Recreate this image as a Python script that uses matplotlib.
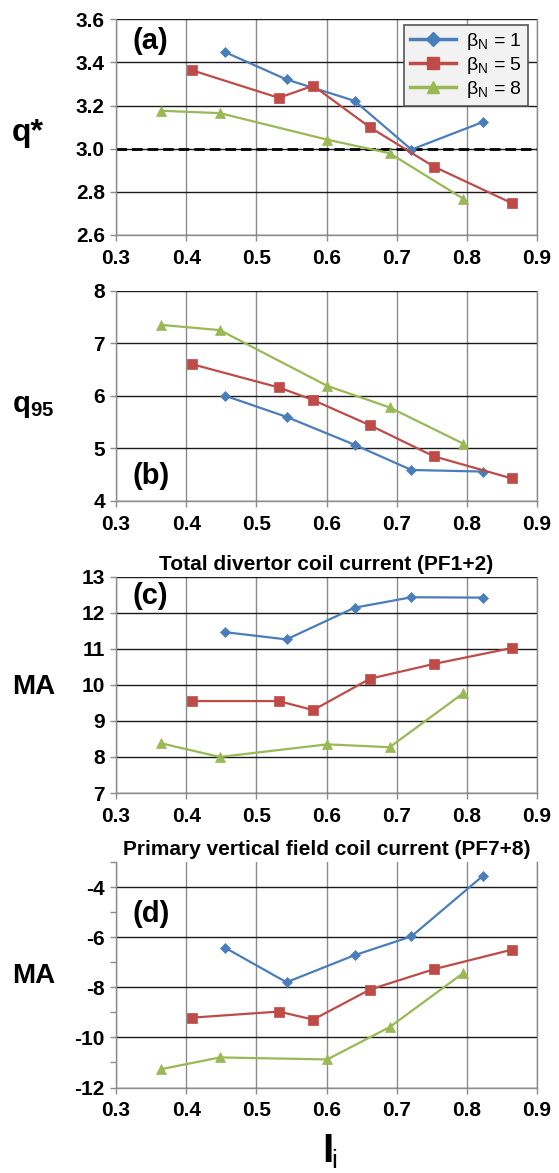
import matplotlib
matplotlib.use("Agg")
import matplotlib.pyplot as plt
from matplotlib.ticker import MultipleLocator, FormatStrFormatter
from matplotlib.lines import Line2D

plt.rcParams['font.family'] = ['Liberation Sans', 'DejaVu Sans']
plt.rcParams['mathtext.fontset'] = 'custom'
plt.rcParams['mathtext.rm'] = 'Liberation Sans'
plt.rcParams['mathtext.bf'] = 'Liberation Sans:bold'
plt.rcParams['mathtext.it'] = 'Liberation Sans:italic'

# ---------------- data ----------------
li_b1 = [0.456, 0.543, 0.640, 0.721, 0.823]
li_b5 = [0.409, 0.532, 0.581, 0.662, 0.753, 0.864]
li_b8 = [0.364, 0.448, 0.601, 0.690, 0.795]

qstar_b1 = [3.447, 3.321, 3.222, 2.996, 3.124]
qstar_b5 = [3.363, 3.236, 3.292, 3.099, 2.917, 2.748]
qstar_b8 = [3.176, 3.165, 3.042, 2.979, 2.768]

q95_b1 = [6.00, 5.60, 5.07, 4.59, 4.56]
q95_b5 = [6.60, 6.16, 5.92, 5.44, 4.85, 4.43]
q95_b8 = [7.35, 7.25, 6.19, 5.78, 5.09]

pf12_b1 = [11.46, 11.26, 12.14, 12.43, 12.42]
pf12_b5 = [9.55, 9.55, 9.30, 10.17, 10.58, 11.02]
pf12_b8 = [8.38, 8.00, 8.35, 8.27, 9.77]

pf78_b1 = [-6.43, -7.80, -6.72, -5.97, -3.55]
pf78_b5 = [-9.21, -8.97, -9.29, -8.09, -7.28, -6.50]
pf78_b8 = [-11.27, -10.80, -10.88, -9.59, -7.43]

series_labels = [r'β$_\mathregular{N}$ = 1', r'β$_\mathregular{N}$ = 5', r'β$_\mathregular{N}$ = 8']
x_ticks = [0.3, 0.4, 0.5, 0.6, 0.7, 0.8, 0.9]
qstar_limit = 3.0

# ---------------- styling ----------------
C_BLUE = '#4a7ebb'
C_RED = '#be4b48'
C_GREEN = '#98b954'
GRIDV = '#8c8c8c'
GRIDH = '#1a1a1a'
SPINE = '#8c8c8c'

W, H = 559, 1173
fig = plt.figure(figsize=(W / 100, H / 100), dpi=100)

def px_axes(top, bottom, left=116, right=537):
    return fig.add_axes([left / W, 1 - bottom / H, (right - left) / W, (bottom - top) / H])

def style(ax, ylim, ymajor, fmt, yminor=None):
    ax.set_xlim(0.3, 0.9)
    ax.set_xticks(x_ticks)
    ax.xaxis.set_major_formatter(FormatStrFormatter('%.1f'))
    ax.set_ylim(*ylim)
    ax.yaxis.set_major_locator(MultipleLocator(ymajor))
    if yminor:
        ax.yaxis.set_minor_locator(MultipleLocator(yminor))
    ax.yaxis.set_major_formatter(FormatStrFormatter(fmt))
    ax.spines['top'].set_visible(False)
    for s in ('left', 'bottom', 'right'):
        ax.spines[s].set_color(SPINE)
        ax.spines[s].set_linewidth(1.0)
    ax.tick_params(axis='both', which='both', direction='out', length=4, width=1,
                   color=SPINE, labelsize=15)
    ax.tick_params(axis='x', pad=6)
    ax.tick_params(axis='y', pad=4)
    for lab in ax.get_xticklabels() + ax.get_yticklabels():
        lab.set_fontweight('bold')
    ax.xaxis.grid(True, color=GRIDV, lw=1.0)
    ax.yaxis.grid(True, which='major', color=GRIDH, lw=1.0)
    ax.set_axisbelow(True)

def plot3(ax, y1, y5, y8):
    kw = dict(lw=1.6, markeredgewidth=0.5, clip_on=False, zorder=3)
    ax.plot(li_b1, y1, color=C_BLUE, marker='D', ms=5, markeredgecolor=C_BLUE, **kw)
    ax.plot(li_b5, y5, color=C_RED, marker='s', ms=7, markeredgecolor=C_RED, **kw)
    ax.plot(li_b8, y8, color=C_GREEN, marker='^', ms=7.5, markeredgecolor=C_GREEN, **kw)

def panel_label(ax, txt, yfrac):
    ax.text(0.04, yfrac, txt, transform=ax.transAxes, fontsize=21, fontweight='bold',
            ha='left', va='center')

# (a)
axa = px_axes(19.3, 235)
style(axa, (2.6, 3.6), 0.2, '%.1f')
plot3(axa, qstar_b1, qstar_b5, qstar_b8)
axa.axhline(qstar_limit, color='black', lw=2, ls=(0, (3.8, 1.8)), zorder=2)
panel_label(axa, '(a)', 0.90)
handles = [Line2D([], [], color=C_BLUE, marker='D', ms=7, lw=2.5),
           Line2D([], [], color=C_RED, marker='s', ms=8, lw=2.5),
           Line2D([], [], color=C_GREEN, marker='^', ms=9, lw=2.5)]
leg = axa.legend(handles, series_labels, loc='upper right',
                 bbox_to_anchor=((528 - 116) / 421, (235 - 25) / 215.7),
                 fontsize=14, frameon=True, fancybox=False, framealpha=1,
                 facecolor='#f2f2f2', edgecolor='#555555', handlelength=2.4,
                 handletextpad=0.5, borderpad=0.3, labelspacing=0.15, borderaxespad=0)
leg.get_frame().set_linewidth(1.2)

# (b)
axb = px_axes(290.7, 501)
style(axb, (4, 8), 1, '%d')
plot3(axb, q95_b1, q95_b5, q95_b8)
panel_label(axb, '(b)', 0.12)

# (c)
axc = px_axes(576.7, 793)
style(axc, (7, 13), 1, '%d')
plot3(axc, pf12_b1, pf12_b5, pf12_b8)
panel_label(axc, '(c)', 0.91)
axc.set_title('Total divertor coil current (PF1+2)', fontsize=15, fontweight='bold', pad=5)

# (d)
axd = px_axes(862, 1087.5)
style(axd, (-12, -3), 2, '%d', yminor=1)
plot3(axd, pf78_b1, pf78_b5, pf78_b8)
panel_label(axd, '(d)', 0.77)
axd.set_title('Primary vertical field coil current (PF7+8)', fontsize=15, fontweight='bold', pad=5)

# y labels / x label
def ftxt(x, y, s, **kw):
    fig.text(x / W, 1 - y / H, s, **kw)

ftxt(12, 141, 'q*', fontsize=23, fontweight='bold', va='baseline', ha='left')
ftxt(12, 412, r'$\mathbf{q}_{\mathbf{95}}$', fontsize=21, va='baseline', ha='left')
ftxt(12, 694, 'MA', fontsize=20, fontweight='bold', va='baseline', ha='left')
ftxt(12, 983, 'MA', fontsize=20, fontweight='bold', va='baseline', ha='left')
ftxt(322, 1162, 'I', fontsize=29, fontweight='bold', va='baseline', ha='left')
ftxt(331.5, 1168, 'i', fontsize=19, va='baseline', ha='left')

fig.savefig('out.png', dpi=100)
